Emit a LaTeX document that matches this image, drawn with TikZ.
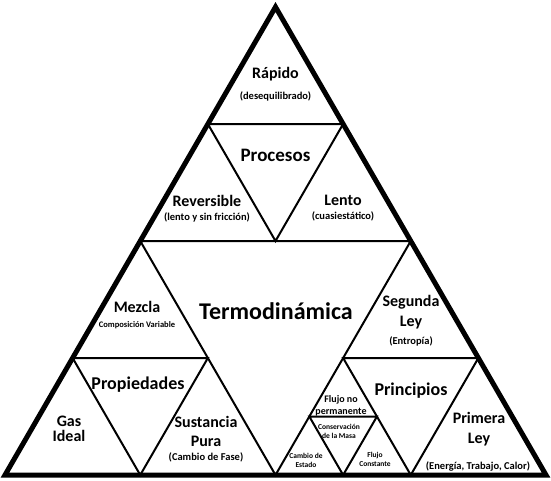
\documentclass[tikz,border=0pt]{standalone}
\usepackage{fontspec}
\setmainfont{Carlito}
\usetikzlibrary{calc}

\begin{document}
\begin{tikzpicture}[
    x=1pt, y=-1pt,
    rim/.style={line width=5pt, line join=miter},
    edge/.style={line width=2pt, line join=miter},
    mainlbl/.style={font=\fontsize{24}{28}\selectfont\bfseries, inner sep=0pt},
    grouplbl/.style={font=\fontsize{19}{22}\selectfont\bfseries, inner sep=0pt},
    toplbl/.style={font=\fontsize{16}{19}\selectfont\bfseries, align=center, inner sep=0pt},
    sublbl/.style={font=\fontsize{10.5}{12}\selectfont\bfseries, align=center, inner sep=0pt},
    tinylbl/.style={font=\fontsize{7.5}{9}\selectfont\bfseries, align=center, inner sep=0pt}
]
\useasboundingbox (0,0) rectangle (551,480);

% Corners
\coordinate (A) at (275.5,7);
\coordinate (B) at (5,475);
\coordinate (C) at (546,475);
\coordinate (ab) at ($(A)!0.5!(B)$);
\coordinate (ac) at ($(A)!0.5!(C)$);
\coordinate (bc) at ($(B)!0.5!(C)$);
\coordinate (t1) at ($(A)!0.5!(ab)$);
\coordinate (t2) at ($(A)!0.5!(ac)$);
\coordinate (t3) at ($(ab)!0.5!(ac)$);
\coordinate (l1) at ($(ab)!0.5!(B)$);
\coordinate (l2) at ($(ab)!0.5!(bc)$);
\coordinate (l3) at ($(B)!0.5!(bc)$);
\coordinate (r1) at ($(ac)!0.5!(bc)$);
\coordinate (r2) at ($(ac)!0.5!(C)$);
\coordinate (r3) at ($(bc)!0.5!(C)$);
\coordinate (s1) at ($(r1)!0.5!(bc)$);
\coordinate (s2) at ($(r1)!0.5!(r3)$);
\coordinate (s3) at ($(bc)!0.5!(r3)$);

% Triangles
\draw[edge] (ab) -- (ac) -- (bc) -- cycle;
\draw[edge] (t1) -- (t2) -- (t3) -- cycle;
\draw[edge] (l1) -- (l2) -- (l3) -- cycle;
\draw[edge] (r1) -- (r2) -- (r3) -- cycle;
\draw[edge] (s1) -- (s2) -- (s3) -- cycle;
\draw[rim] (A) -- (B) -- (C) -- cycle;

% Labels
\node[mainlbl] (termo) at (276,311) {Termodinámica};
\node[grouplbl] (procesos) at (275.5,155) {Procesos};
\node[grouplbl, font=\fontsize{18}{21}\selectfont\bfseries] (propiedades) at (138,385) {Propiedades};
\node[grouplbl, font=\fontsize{18}{21}\selectfont\bfseries] (principios) at (411,391) {Principios};

\node[toplbl] (rapido) at (275.5,74) {Rápido};
\node[sublbl] (rapidosub) at (275.5,96) {(desequilibrado)};
\node[toplbl] (reversible) at (207,201) {Reversible};
\node[sublbl] (reversiblesub) at (207,217) {(lento y sin fricción)};
\node[toplbl] (lento) at (343,200) {Lento};
\node[sublbl] (lentosub) at (343,216) {(cuasiestático)};

\node[toplbl] (mezcla) at (137,307) {Mezcla};
\node[tinylbl, font=\fontsize{8.5}{10}\selectfont\bfseries] (mezclasub) at (137,325) {Composición Variable};
\node[toplbl, font=\fontsize{16}{15}\selectfont\bfseries] (gas) at (69,429) {Gas\\Ideal};
\node[toplbl] (sustancia) at (206,431) {Sustancia\\Pura};
\node[sublbl] (sustanciasub) at (206,457) {(Cambio de Fase)};

\node[toplbl, font=\fontsize{16}{20}\selectfont\bfseries] (segunda) at (411,312) {Segunda\\Ley};
\node[sublbl] (segundasub) at (411,341) {(Entropía)};
\node[toplbl, font=\fontsize{16}{20}\selectfont\bfseries] (primera) at (479,429) {Primera\\Ley};
\node[sublbl] (primerasub) at (478,466) {(Energía, Trabajo, Calor)};

\node[tinylbl, font=\fontsize{10}{12}\selectfont\bfseries] (noperm) at (341,406) {Flujo no\\permanente};
\node[tinylbl] (masa) at (339,431) {Conservación\\de la Masa};
\node[tinylbl] (estado) at (306,460) {Cambio de\\Estado};
\node[tinylbl] (constante) at (375,459) {Flujo\\Constante};

\end{tikzpicture}
\end{document}
